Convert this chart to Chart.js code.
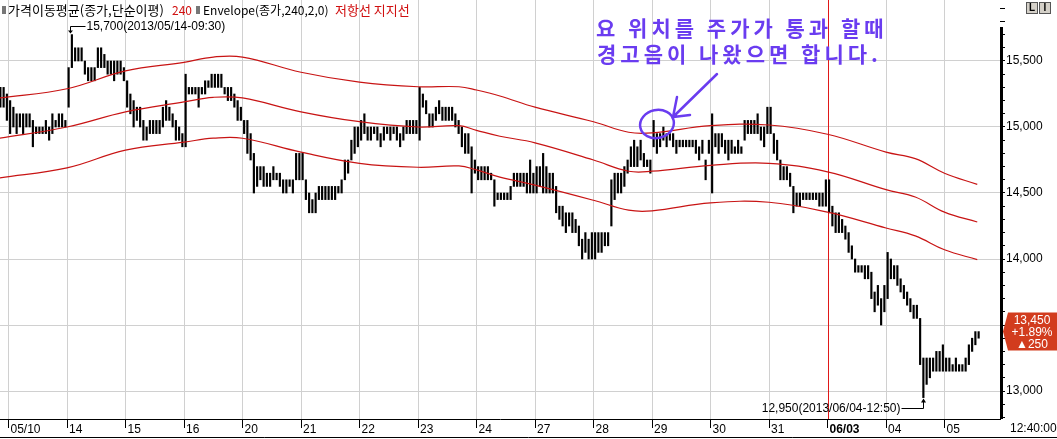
<!DOCTYPE html>
<html>
<head>
<meta charset="utf-8">
<script src="https://cdn.jsdelivr.net/npm/chart.js@4.4.0/dist/chart.umd.min.js"></script>
<style>
html, body { margin: 0; padding: 0; background: #fff; }
#wrap { width: 1057px; height: 439px; }
</style>
</head>
<body>
<div id="wrap"><canvas id="priceChart" width="1057" height="439"></canvas></div>
<script>
// day labels on the time axis (trading days)
var dayLabels = ['05/10', '14', '15', '16', '20', '21', '22', '23', '24', '27', '28', '29', '30', '31', '06/03', '04', '05'];
var barsPerDay = 18;
var markedDay = 14; // 06/03, red vertical line

// tail of 05/09 (last three bars of that day)
var prevStart = 15;
var prevHigh = [15300, 15300, 15250];
var prevLow = [15150, 15150, 15050];

// one row per day, high / low of each bar
var dayHigh = [
    [15200, 15150, 15100, 15100, 15100, 15100, 15100, 15050, 15000, 15000, 15000, 15050, 15000, 15100, 15050, 15100, 15100, 15050],
    [15450, 15700, 15600, 15600, 15600, 15500, 15450, 15450, 15450, 15600, 15600, 15550, 15500, 15500, 15500, 15500, 15500, 15450],
    [15350, 15250, 15200, 15150, 15150, 15050, 15000, 15050, 15050, 15050, 15050, 15150, 15200, 15150, 15100, 15050, 15000, 14950],
    [15400, 15300, 15300, 15300, 15300, 15300, 15350, 15350, 15400, 15400, 15400, 15400, 15300, 15300, 15300, 15250, 15200, 15150],
    [15050, 15050, 14950, 14800, 14700, 14700, 14700, 14650, 14650, 14700, 14650, 14650, 14600, 14600, 14600, 14600, 14800, 14800],
    [14800, 14600, 14500, 14450, 14500, 14550, 14550, 14550, 14550, 14550, 14550, 14550, 14600, 14750, 14750, 14900, 15000, 15000],
    [15050, 15100, 15000, 15000, 15000, 15000, 14950, 15000, 15000, 15000, 15000, 15000, 14950, 15000, 15050, 15050, 15050, 15050],
    [15300, 15250, 15200, 15100, 15100, 15150, 15200, 15150, 15150, 15150, 15150, 15100, 15050, 15000, 14950, 14950, 14850, 14750],
    [14700, 14700, 14700, 14700, 14650, 14600, 14500, 14500, 14500, 14500, 14550, 14650, 14650, 14650, 14650, 14650, 14750, 14650],
    [14700, 14700, 14800, 14700, 14650, 14650, 14550, 14400, 14400, 14350, 14350, 14350, 14300, 14250, 14150, 14200, 14150, 14200],
    [14200, 14200, 14200, 14200, 14200, 14600, 14650, 14650, 14650, 14700, 14750, 14850, 14900, 14850, 14900, 14800, 14750, 14750],
    [15050, 14950, 14950, 15000, 14950, 14950, 14950, 14900, 14900, 14900, 14900, 14900, 14900, 14900, 14850, 14900, 14750, 14900],
    [15100, 14950, 14950, 14950, 14900, 14900, 14900, 14850, 14900, 14850, 15050, 15050, 15050, 15050, 15100, 15000, 15000, 15150],
    [15150, 14950, 14900, 14750, 14700, 14700, 14650, 14550, 14500, 14500, 14500, 14500, 14500, 14500, 14500, 14500, 14500, 14600],
    [14600, 14400, 14350, 14350, 14300, 14250, 14200, 14100, 14000, 13950, 13950, 13950, 13950, 13900, 13750, 13800, 13700, 13800],
    [14050, 14000, 13950, 13950, 13850, 13800, 13750, 13700, 13650, 13650, 13550, 13250, 13250, 13250, 13250, 13300, 13300, 13350],
    [13250, 13250, 13200, 13250, 13200, 13200, 13250, 13350, 13400, 13450, 13450]
];
var dayLow = [
    [14950, 15000, 14950, 15000, 14950, 15000, 15000, 14850, 14950, 14950, 14950, 14950, 14900, 14950, 15000, 15000, 15000, 15000],
    [15150, 15450, 15500, 15500, 15500, 15400, 15350, 15350, 15350, 15450, 15450, 15450, 15400, 15400, 15350, 15400, 15400, 15350],
    [15150, 15100, 15000, 15050, 15000, 14900, 14900, 14950, 14950, 14950, 14950, 15000, 15050, 15050, 15000, 14900, 14900, 14850],
    [14850, 15250, 15250, 15250, 15150, 15250, 15250, 15300, 15300, 15300, 15300, 15300, 15250, 15200, 15200, 15150, 15050, 15050],
    [14950, 14800, 14750, 14500, 14550, 14600, 14550, 14550, 14550, 14600, 14600, 14550, 14500, 14500, 14550, 14500, 14600, 14600],
    [14600, 14450, 14350, 14350, 14350, 14450, 14450, 14450, 14450, 14450, 14450, 14500, 14500, 14600, 14650, 14750, 14800, 14850],
    [14900, 14950, 14900, 14900, 14950, 14900, 14850, 14900, 14950, 14900, 14950, 14900, 14850, 14900, 14950, 14950, 14950, 14950],
    [14900, 15150, 15100, 15000, 15000, 15050, 15100, 15050, 15050, 15050, 15050, 15000, 14950, 14850, 14800, 14800, 14500, 14650],
    [14600, 14600, 14600, 14600, 14600, 14400, 14450, 14450, 14450, 14450, 14450, 14550, 14550, 14550, 14550, 14500, 14500, 14500],
    [14500, 14550, 14500, 14500, 14500, 14500, 14350, 14300, 14250, 14200, 14250, 14200, 14200, 14100, 14000, 14050, 14000, 14000],
    [14000, 14050, 14050, 14100, 14100, 14250, 14450, 14500, 14500, 14550, 14650, 14700, 14700, 14700, 14750, 14700, 14700, 14650],
    [14850, 14800, 14850, 14900, 14850, 14900, 14850, 14800, 14850, 14850, 14850, 14850, 14850, 14800, 14750, 14800, 14600, 14800],
    [14500, 14850, 14800, 14850, 14800, 14750, 14800, 14800, 14800, 14800, 14900, 14950, 14950, 14950, 14950, 14900, 14850, 14950],
    [14950, 14800, 14750, 14600, 14600, 14600, 14550, 14350, 14400, 14400, 14450, 14450, 14450, 14450, 14450, 14400, 14400, 14400],
    [14350, 14250, 14200, 14200, 14200, 14150, 14050, 14000, 13900, 13900, 13900, 13850, 13850, 13700, 13600, 13650, 13500, 13600],
    [13700, 13850, 13850, 13800, 13750, 13700, 13650, 13600, 13550, 13550, 13200, 12950, 13050, 13100, 13150, 13150, 13150, 13150],
    [13150, 13150, 13150, 13150, 13150, 13150, 13150, 13200, 13300, 13350, 13400]
];

// 240 moving average and its +/-2% envelope, read at these day positions
var maDays = [-0.15, 1, 2, 3, 3.5, 4, 5, 6, 7, 7.7, 8, 8.4, 9, 10, 10.6, 11, 12, 13, 14, 15, 15.5, 16, 16.56];
var maLine = [14915, 15000, 15115, 15190, 15225, 15220, 15115, 15040, 15000, 15010, 14975, 14930, 14880, 14750, 14665, 14665, 14710, 14725, 14660, 14525, 14470, 14355, 14280];
var envUpper = [15220, 15290, 15425, 15490, 15530, 15530, 15415, 15340, 15305, 15305, 15280, 15235, 15150, 15040, 14960, 14955, 15010, 15015, 14945, 14810, 14760, 14650, 14565];
var envLower = [14615, 14690, 14825, 14885, 14915, 14915, 14810, 14725, 14695, 14705, 14675, 14620, 14560, 14445, 14370, 14365, 14425, 14430, 14355, 14235, 14175, 14070, 13995];

var lastPrice = 13450;
var lastChange = '▲250';
var lastPct = '+1.89%';
var lastTime = '12:40:00';
var highMark = { day: 1, bar: 1, price: 15700, text: '15,700(2013/05/14-09:30)' };
var lowMark = { day: 15, bar: 11, price: 12950, text: '12,950(2013/06/04-12:50)' };

var axisFont = '"Liberation Sans Narrow", "Liberation Sans", Arial, sans-serif';
var krFont = '"Noto Sans CJK KR", sans-serif';
var lineRed = '#c81414';

var barData = [];
prevHigh.forEach(function (h, i) {
    barData.push({ x: -1 + (prevStart + i + 0.5) / barsPerDay, y: [prevLow[i], h] });
});
dayHigh.forEach(function (row, d) {
    row.forEach(function (h, i) {
        barData.push({ x: d + (i + 0.5) / barsPerDay, y: [dayLow[d][i], h] });
    });
});

function linePoints(vals) {
    return vals.map(function (v, i) { return { x: maDays[i], y: v }; });
}

function barX(mark) {
    return mark.day + (mark.bar + 0.5) / barsPerDay;
}

var overlay = {
    id: 'overlay',
    beforeDraw: function (chart) {
        var c = chart.ctx;
        c.save();
        c.fillStyle = '#fff';
        c.fillRect(0, 0, chart.width, chart.height);
        c.restore();
    },
    beforeDatasetsDraw: function (chart) {
        var c = chart.ctx;
        var mx = Math.round(chart.scales.x.getPixelForValue(markedDay)) + 0.5;
        c.save();
        c.strokeStyle = '#e01818';
        c.lineWidth = 1;
        c.beginPath();
        c.moveTo(mx, 0); c.lineTo(mx, chart.chartArea.bottom);
        c.stroke();
        c.restore();
    },
    afterDraw: function (chart) {
        var c = chart.ctx;
        var xs = chart.scales.x, ys = chart.scales.y;
        var area = chart.chartArea;
        c.save();

        // header line
        c.textBaseline = 'middle';
        c.fillStyle = '#777';
        c.fillRect(2, 6, 4, 8);
        c.fillRect(196, 6, 4, 8);
        c.fillStyle = '#000';
        c.font = '13px ' + krFont;
        c.fillText('가격이동평균(종가,단순이평)', 8, 10);
        c.font = '12px ' + krFont;
        c.fillText('Envelope(종가,240,2,0)', 203, 10);
        c.fillStyle = '#d01010';
        c.fillText('240', 172, 10);
        c.font = '13px ' + krFont;
        c.fillText('저항선 지지선', 335, 10);

        // high / low labels
        c.font = '12px ' + axisFont;
        c.strokeStyle = '#000';
        c.fillStyle = '#000';
        c.lineWidth = 1;
        var hx = Math.round(xs.getPixelForValue(barX(highMark))) - 1.5;
        var hy = ys.getPixelForValue(highMark.price);
        c.beginPath();
        c.moveTo(hx + 15, 26.5); c.lineTo(hx, 26.5); c.lineTo(hx, hy - 2);
        c.stroke();
        c.beginPath();
        c.moveTo(hx - 2.5, hy - 4); c.lineTo(hx + 2.5, hy - 4); c.lineTo(hx, hy - 1); c.closePath();
        c.fill();
        c.textAlign = 'left';
        c.fillText(highMark.text, hx + 16, 27);

        var lx = Math.round(xs.getPixelForValue(barX(lowMark))) + 0.5;
        var ly = ys.getPixelForValue(lowMark.price);
        c.beginPath();
        c.moveTo(lx - 22, 408.5); c.lineTo(lx, 408.5); c.lineTo(lx, ly + 2);
        c.stroke();
        c.beginPath();
        c.moveTo(lx - 2.5, ly + 5); c.lineTo(lx + 2.5, ly + 5); c.lineTo(lx, ly + 1); c.closePath();
        c.fill();
        c.textAlign = 'right';
        c.fillText(lowMark.text, lx - 23, 409);

        // hand-written note
        var purple = '#6a3cf0';
        c.fillStyle = purple;
        c.strokeStyle = purple;
        c.textAlign = 'left';
        c.font = 'bold 21px ' + krFont;
        c.letterSpacing = '4px';
        c.fillText('요 위치를 주가가 통과 할때', 596, 28);
        c.fillText('경고음이 나왔으면 합니다.', 597, 54);
        c.letterSpacing = '0px';
        c.lineWidth = 2.5;
        c.lineCap = 'round';
        c.beginPath();
        c.ellipse(657, 124, 17, 14, -0.2, 0, Math.PI * 2);
        c.stroke();
        c.beginPath();
        c.moveTo(717, 74); c.lineTo(673, 117);
        c.moveTo(677, 97); c.lineTo(673, 117); c.lineTo(690, 115);
        c.stroke();

        // right axis line
        c.lineCap = 'butt';
        c.strokeStyle = '#000';
        c.lineWidth = 3;
        c.beginPath();
        c.moveTo(area.right + 1.5, 27); c.lineTo(area.right + 1.5, area.bottom);
        c.stroke();

        // bottom frame
        c.lineWidth = 1;
        c.beginPath();
        c.moveTo(0, 437.5); c.lineTo(chart.width, 437.5);
        c.stroke();

        // current price tag
        var py = ys.getPixelForValue(lastPrice);
        var bx = area.right + 3;
        c.fillStyle = '#d23c1e';
        c.beginPath();
        c.moveTo(bx, py); c.lineTo(bx + 5, py - 19); c.lineTo(chart.width, py - 19);
        c.lineTo(chart.width, py + 19); c.lineTo(bx + 5, py + 19); c.closePath();
        c.fill();
        c.fillStyle = '#fff';
        c.textAlign = 'center';
        c.font = '12px ' + axisFont;
        c.fillText(lastPrice.toLocaleString('en-US'), 1032, py - 11);
        c.fillText(lastPct, 1032, py + 1);
        c.fillText(lastChange, 1032, py + 13);

        // time label
        c.fillStyle = '#000';
        c.textAlign = 'left';
        c.fillText(lastTime, area.right + 10, 429);

        // L / I buttons
        [[1026, 'L'], [1039, 'I']].forEach(function (b) {
            c.fillStyle = '#d4d0c8';
            c.fillRect(b[0], 2, 12, 12);
            c.strokeStyle = '#555';
            c.strokeRect(b[0] + 0.5, 2.5, 11, 11);
            c.fillStyle = '#000';
            c.textAlign = 'center';
            c.font = 'bold 10px ' + axisFont;
            c.fillText(b[1], b[0] + 6, 8.5);
        });
        c.restore();
    }
};

var priceChart = new Chart(document.getElementById('priceChart').getContext('2d'), {
    type: 'bar',
    data: {
        datasets: [{
            type: 'line',
            data: linePoints(envUpper),
            borderColor: lineRed,
            borderWidth: 1.2,
            pointRadius: 0,
            tension: 0.4,
            order: 1
        }, {
            type: 'line',
            data: linePoints(maLine),
            borderColor: lineRed,
            borderWidth: 1.2,
            pointRadius: 0,
            tension: 0.4,
            order: 1
        }, {
            type: 'line',
            data: linePoints(envLower),
            borderColor: lineRed,
            borderWidth: 1.2,
            pointRadius: 0,
            tension: 0.4,
            order: 1
        }, {
            type: 'bar',
            data: barData,
            backgroundColor: '#000',
            borderWidth: 0,
            barThickness: 1.5,
            grouped: false,
            order: 2
        }]
    },
    options: {
        responsive: false,
        animation: false,
        events: [],
        layout: { padding: 0 },
        plugins: {
            legend: { display: false },
            tooltip: { enabled: false }
        },
        scales: {
            x: {
                type: 'linear',
                position: 'bottom',
                offset: false,
                min: -0.1453,
                max: 16.9487,
                grid: {
                    offset: false,
                    color: function (ctx) { return ctx.tick && ctx.tick.value === markedDay ? 'rgba(0,0,0,0)' : '#d0d0d0'; },
                    tickColor: '#000',
                    tickLength: 9
                },
                border: { color: '#000', width: 1 },
                ticks: {
                    stepSize: 1,
                    autoSkip: false,
                    maxRotation: 0,
                    align: 'start',
                    labelOffset: 2,
                    padding: -6,
                    color: '#000',
                    includeBounds: false,
                    font: function (ctx) {
                        return { family: axisFont, size: 12, weight: ctx.tick && ctx.tick.value === markedDay ? 'bold' : 'normal' };
                    },
                    callback: function (value) { return dayLabels[value] !== undefined ? dayLabels[value] : ''; }
                },
                afterFit: function (scale) {
                    scale.height = 20;
                    scale.paddingLeft = 0;
                    scale.paddingRight = 0;
                }
            },
            y: {
                type: 'linear',
                position: 'right',
                min: 12787.9,
                max: 15962.1,
                grid: {
                    color: function (ctx) { return ctx.tick && ctx.tick.value % 500 === 0 ? '#d0d0d0' : 'rgba(0,0,0,0)'; },
                    tickColor: '#000',
                    tickLength: 5
                },
                border: { display: false },
                ticks: {
                    stepSize: 100,
                    autoSkip: false,
                    includeBounds: false,
                    padding: 1,
                    color: '#000',
                    font: { family: axisFont, size: 12 },
                    callback: function (value) { return value % 500 === 0 ? value.toLocaleString('en-US') : ''; }
                },
                afterFit: function (scale) {
                    scale.width = 57;
                    scale.paddingTop = 0;
                    scale.paddingBottom = 0;
                }
            }
        }
    },
    plugins: [overlay]
});
</script>
</body>
</html>
